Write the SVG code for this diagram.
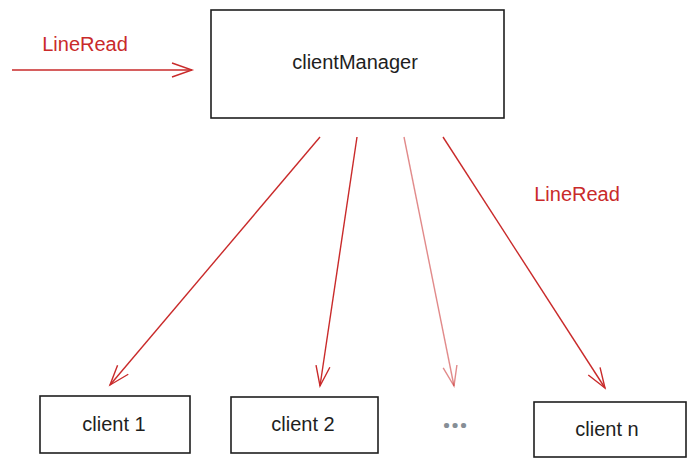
<svg xmlns="http://www.w3.org/2000/svg" width="690" height="466" viewBox="0 0 690 466">
<style>
.box{fill:#fff;stroke:#1e1e1e;stroke-width:1.6}
.lbl{font-family:"Liberation Sans",Arial,sans-serif;font-size:20px;fill:#1e1e1e;text-anchor:middle}
.red{font-family:"Liberation Sans",Arial,sans-serif;font-size:20px;fill:#c92a2a;text-anchor:middle}
.arr{fill:none;stroke:#c92a2a;stroke-width:1.4;marker-end:url(#ah)}
.arrl{fill:none;stroke:#c92a2a;stroke-width:1.4;stroke-opacity:0.55;marker-end:url(#ahl)}
</style>
<defs>
<marker id="ah" markerWidth="24" markerHeight="16" refX="21" refY="8" orient="auto" markerUnits="userSpaceOnUse">
<path d="M1,1 L21,8 L1,15" fill="none" stroke="#c92a2a" stroke-width="1.4"/>
</marker>
<marker id="ahl" markerWidth="24" markerHeight="16" refX="21" refY="8" orient="auto" markerUnits="userSpaceOnUse">
<path d="M1,1 L21,8 L1,15" fill="none" stroke="#c92a2a" stroke-opacity="0.55" stroke-width="1.4"/>
</marker>
</defs>
<g id="connectors">
<path class="arr" d="M12,70 L192,70"/>
<path class="arr" d="M320,137 L110,385"/>
<path class="arr" d="M357,137 L320,386"/>
<path class="arrl" d="M404,137 L454,386"/>
<path class="arr" d="M443,137 L605,388"/>
</g>
<g id="label-left"><text class="red" x="85" y="51">LineRead</text></g>
<g id="label-right"><text class="red" x="577" y="201">LineRead</text></g>
<g id="clientManager">
<rect class="box" x="211" y="10" width="293" height="108"/>
<text class="lbl" x="355" y="69">clientManager</text>
</g>
<g id="client1">
<rect class="box" x="40" y="396" width="150" height="57"/>
<text class="lbl" x="114" y="431">client 1</text>
</g>
<g id="client2">
<rect class="box" x="231" y="397" width="147" height="56"/>
<text class="lbl" x="303" y="431">client 2</text>
</g>
<g id="dots"><text x="455" y="428" style="font-family:'Open Sans','Noto Sans',sans-serif;font-size:30px;fill:#868e96;text-anchor:middle;font-weight:bold">...</text></g>
<g id="clientn">
<rect class="box" x="534" y="402" width="152" height="55"/>
<text class="lbl" x="607" y="436">client n</text>
</g>
</svg>
